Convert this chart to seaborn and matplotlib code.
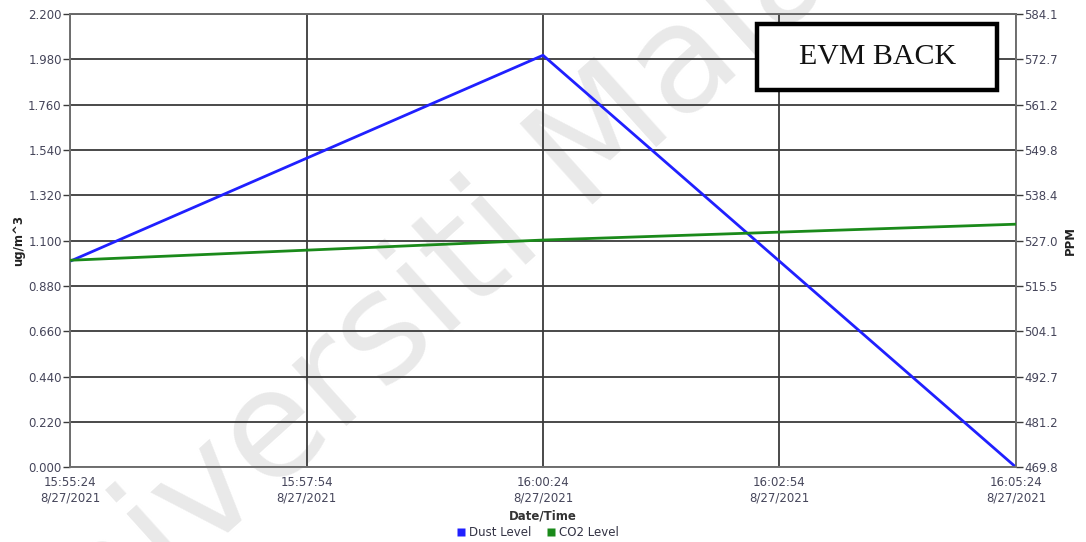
import matplotlib
matplotlib.use("Agg")
import matplotlib.pyplot as plt
from matplotlib.patches import Rectangle
from matplotlib.lines import Line2D
import seaborn as sns
import pandas as pd

# Sensor readings
times = ["2021-08-27 15:55:24", "2021-08-27 16:00:24", "2021-08-27 16:05:24"]
dust_level = [1.0, 2.0, 0.0]          # ug/m^3
co2_level = [522.0, 527.1, 531.1]     # PPM

tick_times = ["2021-08-27 15:55:24", "2021-08-27 15:57:54", "2021-08-27 16:00:24",
              "2021-08-27 16:02:54", "2021-08-27 16:05:24"]
left_ticks = [0.000, 0.220, 0.440, 0.660, 0.880, 1.100, 1.320, 1.540, 1.760, 1.980, 2.200]
right_ticks = [469.8, 481.2, 492.7, 504.1, 515.5, 527.0, 538.4, 549.8, 561.2, 572.7, 584.1]

df = pd.DataFrame({"time": pd.to_datetime(times), "dust": dust_level, "co2": co2_level})
tick_dt = pd.to_datetime(tick_times)

sns.set_style("white")
plt.rcParams["font.family"] = ["DejaVu Sans"]

fig = plt.figure(figsize=(10.86, 5.42), dpi=100)
ax = fig.add_axes([0.0645, 0.138, 0.871, 0.836])
ax2 = ax.twinx()
ax2.patch.set_alpha(0)

tick_color = "#45455a"
grid_color = "#3a3a3a"

# Watermark behind the grid and the data lines
ax.text(0.435, 0.525, "Universiti Malaya", fontsize=108, color="#e9e9e9",
        rotation=42, ha="center", va="center", transform=fig.transFigure,
        zorder=0.1, clip_on=False)

sns.lineplot(data=df, x="time", y="dust", ax=ax, color="#2020ff", lw=2.0, zorder=3)
sns.lineplot(data=df, x="time", y="co2", ax=ax2, color="#1a8a1a", lw=2.0, zorder=3)

ax.set_xlim(tick_dt[0], tick_dt[-1])
ax.set_ylim(0, 2.2)
ax2.set_ylim(469.8, 584.1)

ax.set_yticks(left_ticks)
ax.set_yticklabels([f"{v:.3f}" for v in left_ticks])
ax2.set_yticks([469.8 + i * (584.1 - 469.8) / 10 for i in range(11)])
ax2.set_yticklabels([f"{v:.1f}" for v in right_ticks])

ax.set_xticks(tick_dt)
ax.set_xticklabels([f"{t.strftime('%H:%M:%S')}\n{t.month}/{t.day}/{t.year}" for t in tick_dt],
                   linespacing=1.25)

ax.grid(True, color=grid_color, lw=1.3)
ax.set_axisbelow(True)

for a in (ax, ax2):
    a.tick_params(axis="both", labelsize=8.5, colors=grid_color, labelcolor=tick_color,
                  length=5, width=1.0, direction="out", pad=1)
    for s in a.spines.values():
        s.set_color("#707070")
        s.set_linewidth(1.2)
ax.spines["top"].set_color(grid_color)
ax2.set_xlabel("")

ax.set_xlabel("Date/Time", fontsize=8.5, fontweight="bold", color="#333333", labelpad=4)
ax.set_ylabel("ug/m^3", fontsize=8.5, fontweight="bold", color="#222222", labelpad=2)
ax2.set_ylabel("PPM", fontsize=8.5, fontweight="bold", color="#222222", rotation=90, labelpad=4)

# Legend below the axis title
handles = [Line2D([], [], marker="s", color="none", markerfacecolor="#2020ff",
                  markeredgecolor="none", markersize=6),
           Line2D([], [], marker="s", color="none", markerfacecolor="#1a8a1a",
                  markeredgecolor="none", markersize=6)]
fig.legend(handles, ["Dust Level", "CO2 Level"], loc="center", bbox_to_anchor=(0.495, 0.017),
           ncol=2, frameon=False, fontsize=8.5, handlelength=0.8, handletextpad=0.3,
           columnspacing=1.2, labelcolor="#333344")

# Label box
fig.add_artist(Rectangle((0.6975, 0.834), 0.2205, 0.122, transform=fig.transFigure,
                         facecolor="white", edgecolor="black", lw=3.2, zorder=5))
fig.text(0.8077, 0.894, "EVM BACK", fontsize=21.5, family="Liberation Serif",
         ha="center", va="center", color="#111111", zorder=6)

fig.savefig("out.png", dpi=100)
